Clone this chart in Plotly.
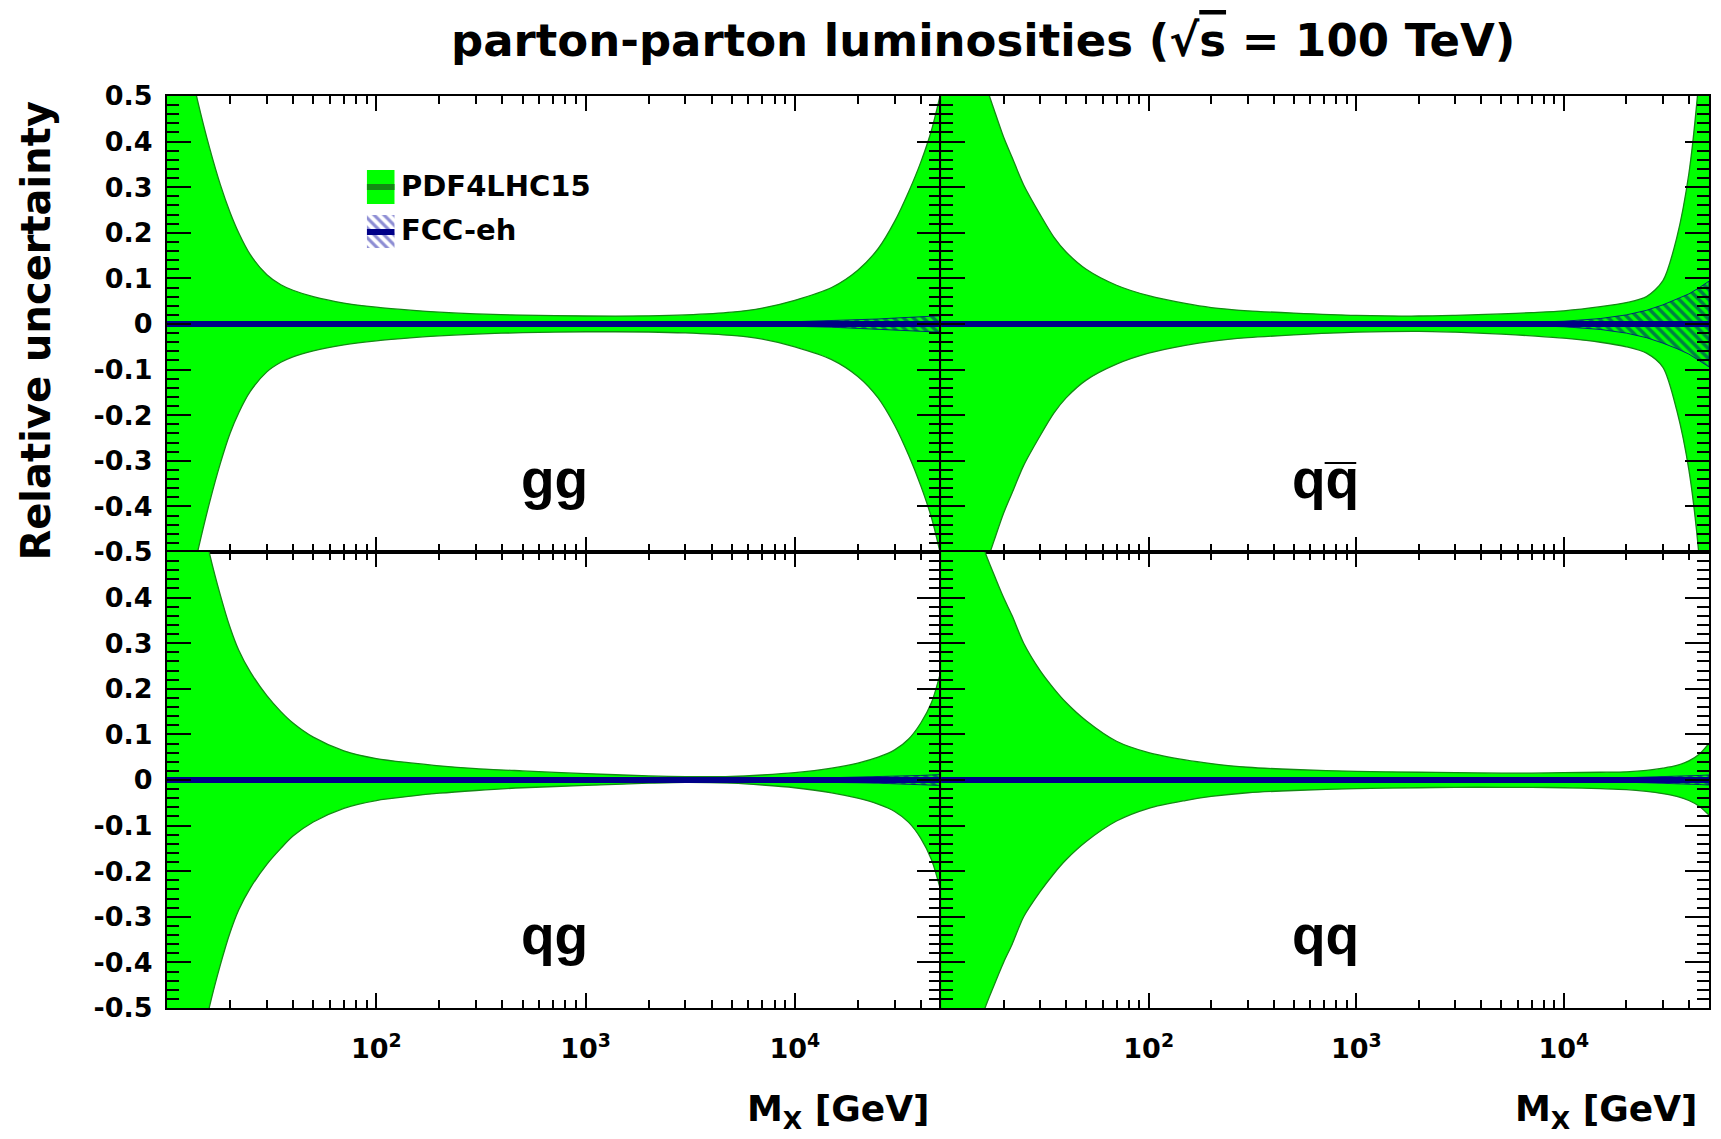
import plotly.graph_objects as go
from plotly.subplots import make_subplots

# ---------------- data ----------------
M = [10, 12, 14, 16, 18, 20, 22, 25, 30, 35, 40, 50, 70, 100, 150, 200, 300, 500,
     1000, 2000, 3000, 5000, 7000, 10000, 15000, 20000, 25000, 30000,
     35000, 40000, 45000, 50000]

gg_up = [0.80, 0.63, 0.49, 0.385, 0.305, 0.245, 0.20, 0.152, 0.108, 0.086, 0.074, 0.060, 0.046, 0.037, 0.030, 0.026, 0.022, 0.0195,
         0.0175, 0.018, 0.020, 0.026, 0.035, 0.052, 0.080, 0.118, 0.165, 0.225, 0.29, 0.355, 0.425, 0.51]
gg_lo = [-0.82, -0.64, -0.50, -0.39, -0.305, -0.24, -0.195, -0.148, -0.105, -0.084, -0.072, -0.059, -0.046, -0.037, -0.030, -0.026, -0.022, -0.019,
         -0.017, -0.0175, -0.0195, -0.025, -0.033, -0.050, -0.078, -0.115, -0.162, -0.222, -0.288, -0.355, -0.425, -0.51]

qqbar_up = [0.95, 0.78, 0.64, 0.54, 0.47, 0.41, 0.365, 0.305, 0.24, 0.19, 0.158, 0.12, 0.085, 0.062, 0.045, 0.036, 0.029, 0.024,
            0.019, 0.0175, 0.019, 0.022, 0.025, 0.029, 0.038, 0.047, 0.060, 0.095, 0.19, 0.33, 0.55, 0.85]
qqbar_lo = [-0.95, -0.78, -0.64, -0.545, -0.475, -0.415, -0.37, -0.31, -0.245, -0.195, -0.162, -0.123, -0.088, -0.064, -0.047, -0.038, -0.030, -0.024,
            -0.018, -0.016, -0.018, -0.022, -0.026, -0.031, -0.040, -0.050, -0.064, -0.095, -0.19, -0.32, -0.52, -0.85]

qg_up = [1.0, 0.78, 0.62, 0.495, 0.405, 0.335, 0.285, 0.237, 0.185, 0.150, 0.125, 0.094, 0.064, 0.047, 0.037, 0.031, 0.025, 0.020,
         0.014, 0.009, 0.0075, 0.008, 0.011, 0.016, 0.026, 0.037, 0.050, 0.066, 0.090, 0.125, 0.17, 0.24]
qg_lo = [-1.0, -0.78, -0.62, -0.495, -0.405, -0.335, -0.285, -0.237, -0.185, -0.150, -0.123, -0.092, -0.062, -0.045, -0.035, -0.029, -0.023, -0.017,
         -0.012, -0.007, -0.005, -0.007, -0.011, -0.017, -0.028, -0.040, -0.053, -0.069, -0.093, -0.128, -0.175, -0.245]

qq_up = [1.1, 0.80, 0.62, 0.51, 0.45, 0.40, 0.36, 0.30, 0.24, 0.20, 0.17, 0.13, 0.085, 0.060, 0.044, 0.036, 0.028, 0.023,
         0.019, 0.017, 0.016, 0.015, 0.015, 0.016, 0.017, 0.018, 0.021, 0.026, 0.032, 0.042, 0.057, 0.080]
qq_lo = [-1.1, -0.80, -0.62, -0.51, -0.45, -0.40, -0.36, -0.30, -0.245, -0.205, -0.175, -0.135, -0.09, -0.062, -0.045, -0.036, -0.028, -0.023,
         -0.019, -0.017, -0.016, -0.016, -0.016, -0.017, -0.019, -0.021, -0.025, -0.030, -0.036, -0.045, -0.058, -0.077]

# FCC-eh relative uncertainty (symmetric half-width)
fcc_gg = [0.003] * 22 + [0.004, 0.005, 0.007, 0.009, 0.011, 0.013, 0.015, 0.016, 0.017, 0.018]
fcc_qqbar = [0.003] * 22 + [0.004, 0.006, 0.012, 0.020, 0.030, 0.042, 0.054, 0.066, 0.080, 0.094]
fcc_qg = [0.003] * 22 + [0.0035, 0.004, 0.005, 0.006, 0.007, 0.008, 0.009, 0.010, 0.011, 0.012]
fcc_qq = [0.003] * 22 + [0.0035, 0.004, 0.0045, 0.005, 0.006, 0.007, 0.008, 0.009, 0.010, 0.011]
central = [0.0] * len(M)

panels = [
    (1, 1, "gg", gg_up, gg_lo, fcc_gg),
    (1, 2, "qq\u0305", qqbar_up, qqbar_lo, fcc_qqbar),
    (2, 1, "qg", qg_up, qg_lo, fcc_qg),
    (2, 2, "qq", qq_up, qq_lo, fcc_qq),
]

y_ticks = [-0.5, -0.4, -0.3, -0.2, -0.1, 0.0, 0.1, 0.2, 0.3, 0.4, 0.5]
y_text = ["-0.5", "-0.4", "-0.3", "-0.2", "-0.1", "0", "0.1", "0.2", "0.3", "0.4", "0.5"]
x_ticks = [100, 1000, 10000]
x_text = ["10<sup>2</sup>", "10<sup>3</sup>", "10<sup>4</sup>"]

# ---------------- styling ----------------
GREEN = "#00ff00"
DKGREEN = "#138a13"
NAVY = "#000088"
FONT = "DejaVu Sans, Liberation Sans, Arial, sans-serif"
NARROW = "Liberation Sans Narrow, Liberation Sans, Arial, sans-serif"
SPLIT = 0.502

fig = make_subplots(rows=2, cols=2, horizontal_spacing=0, vertical_spacing=0)

for row, col, label, up, lo, fcc in panels:
    fig.add_trace(go.Scatter(x=M, y=up, mode="lines", line=dict(color=DKGREEN, width=1.3, shape="spline", smoothing=0.8),
                             showlegend=False, hoverinfo="skip"), row=row, col=col)
    fig.add_trace(go.Scatter(x=M, y=lo, mode="lines", line=dict(color=DKGREEN, width=1.3, shape="spline", smoothing=0.8),
                             fill="tonexty", fillcolor=GREEN, showlegend=False, hoverinfo="skip"), row=row, col=col)
    f_up = [c + e for c, e in zip(central, fcc)]
    f_lo = [c - e for c, e in zip(central, fcc)]
    fig.add_trace(go.Scatter(x=M + M[::-1], y=f_up + f_lo[::-1], mode="lines", line=dict(width=0.8, color=NAVY),
                             fill="toself", fillcolor="rgba(0,0,0,0)",
                             fillpattern=dict(shape="\\", fgcolor=NAVY, bgcolor="rgba(0,0,0,0)", size=7, solidity=0.5),
                             showlegend=False, hoverinfo="skip"), row=row, col=col)
    fig.add_trace(go.Scatter(x=M, y=central, mode="lines", line=dict(color=NAVY, width=6),
                             showlegend=False, hoverinfo="skip"), row=row, col=col)

axis_common = dict(showline=True, linecolor="black", linewidth=2, mirror="ticks", ticks="inside",
                   tickcolor="black", tickwidth=1.6, showgrid=False, zeroline=False)

for row in (1, 2):
    for col in (1, 2):
        dom = [0, SPLIT] if col == 1 else [SPLIT, 1]
        fig.update_xaxes(type="log", range=[1, 4.69897], domain=dom, tickmode="array", tickvals=x_ticks,
                         ticktext=x_text, ticklen=15,
                         minor=dict(ticks="inside", dtick="D1", ticklen=8, tickcolor="black", tickwidth=1.6),
                         showticklabels=(row == 2), ticklabelstandoff=16,
                         tickfont=dict(family=FONT, size=27, color="black", weight="bold"),
                         row=row, col=col, **axis_common)
        if row == 1:
            tv, tt = y_ticks, y_text
        else:
            tv, tt = y_ticks[:-1], y_text[:-1]
        fig.update_yaxes(range=[-0.5, 0.5], tickmode="array", tickvals=tv, ticktext=tt, ticklen=24,
                         minor=dict(ticks="inside", dtick=0.02, ticklen=12, tickcolor="black", tickwidth=1.6),
                         showticklabels=(col == 1), ticklabelstandoff=7,
                         tickfont=dict(family=FONT, size=27, color="black", weight="bold"),
                         row=row, col=col, **axis_common)

# panel labels
axes_names = {(1, 1): ("x", "y"), (1, 2): ("x2", "y2"), (2, 1): ("x3", "y3"), (2, 2): ("x4", "y4")}
for row, col, label, up, lo, fcc in panels:
    xa, ya = axes_names[(row, col)]
    fig.add_annotation(x=0.5, xref=xa + " domain", y=-0.34, yref=ya, text=label, showarrow=False,
                       font=dict(family=NARROW, size=55, color="black", weight="bold"))

# legend swatches on a small hidden axis
fig.update_layout(
    xaxis5=dict(domain=[0.12953, 0.14767], anchor="y5", range=[0, 1], visible=False),
    yaxis5=dict(domain=[0.8333, 0.92105], anchor="x5", range=[0, 80], visible=False),
)
fig.add_trace(go.Scatter(x=[0, 1, 1, 0, 0], y=[44, 44, 78, 78, 44], mode="lines", line=dict(width=0),
                         fill="toself", fillcolor=GREEN, xaxis="x5", yaxis="y5", showlegend=False, hoverinfo="skip"))
fig.add_trace(go.Scatter(x=[0, 1], y=[61, 61], mode="lines", line=dict(color=DKGREEN, width=6),
                         xaxis="x5", yaxis="y5", showlegend=False, hoverinfo="skip"))
fig.add_trace(go.Scatter(x=[0, 1, 1, 0, 0], y=[0, 0, 33, 33, 0], mode="lines", line=dict(width=0),
                         fill="toself", fillcolor="rgba(0,0,0,0)",
                         fillpattern=dict(shape="\\", fgcolor="#1a1aa8", bgcolor="rgba(0,0,0,0)", size=7, solidity=0.45),
                         xaxis="x5", yaxis="y5", showlegend=False, hoverinfo="skip"))
fig.add_trace(go.Scatter(x=[0, 1], y=[16, 16], mode="lines", line=dict(color=NAVY, width=6),
                         xaxis="x5", yaxis="y5", showlegend=False, hoverinfo="skip"))

fig.add_annotation(x=0.1505, y=0.9013, xref="paper", yref="paper", xanchor="left", yanchor="middle",
                   text="PDF4LHC15", showarrow=False, font=dict(family=FONT, size=29, color="black", weight="bold"))
fig.add_annotation(x=0.1505, y=0.853, xref="paper", yref="paper", xanchor="left", yanchor="middle",
                   text="FCC-eh", showarrow=False, font=dict(family=FONT, size=29, color="black", weight="bold"))

# axis titles
for xr in (SPLIT, 1.0):
    fig.add_annotation(x=xr, y=-0.086, xref="paper", yref="paper", xanchor="right", yanchor="top", xshift=-9,
                       text="M<sub>X</sub> [GeV]", showarrow=False,
                       font=dict(family=FONT, size=36, color="black", weight="bold"))
fig.add_annotation(x=-0.0848, y=0.743, xref="paper", yref="paper", xanchor="center", yanchor="middle",
                   text="Relative uncertainty", textangle=-90, showarrow=False,
                   font=dict(family=FONT, size=40, color="black", weight="bold"))
# title
fig.add_annotation(x=0.529, y=1.061, xref="paper", yref="paper", xanchor="center", yanchor="middle",
                   text="parton-parton luminosities (\u221A<span style='text-decoration:overline'>s</span> = 100 TeV)",
                   showarrow=False, font=dict(family=FONT, size=45, color="black", weight="bold"))

fig.update_layout(width=1721, height=1139, margin=dict(l=167, r=10, t=96, b=131),
                  paper_bgcolor="white", plot_bgcolor="white", showlegend=False)

fig.write_html("out.html")
